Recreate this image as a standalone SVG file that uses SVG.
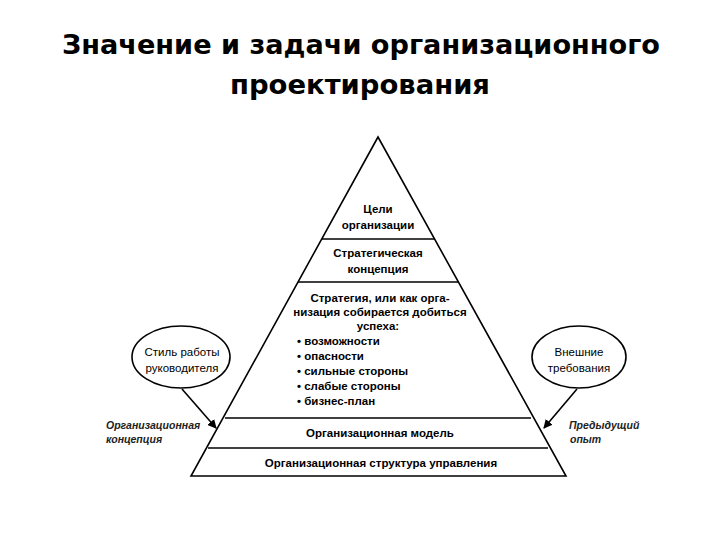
<svg xmlns="http://www.w3.org/2000/svg" width="720" height="540" viewBox="0 0 720 540">
<defs>
<style>
.t{font-family:"Liberation Sans",Arial,sans-serif;fill:#000}
.b{font-weight:bold;font-size:11.5px}
.n{font-size:11.5px}
.i{font-style:italic;font-weight:bold;font-size:10.5px;fill:#222}
.l{stroke:#000;stroke-width:1.6;fill:none}
.h{font-family:"DejaVu Sans","Liberation Sans",sans-serif;font-weight:bold;font-size:26px;fill:#000}
</style>
<marker id="a" markerWidth="9" markerHeight="9" refX="8" refY="4.5" orient="auto" markerUnits="userSpaceOnUse"><path d="M0,0 L9,4.5 L0,9 z" fill="#000"/></marker>
</defs>
<rect width="720" height="540" fill="#fff"/>
<text class="h" x="62" y="54" textLength="598" lengthAdjust="spacingAndGlyphs">Значение и задачи организационного</text>
<text class="h" x="230" y="94" textLength="260" lengthAdjust="spacingAndGlyphs">проектирования</text>
<g id="pyramid">
<path class="l" d="M378,137 L191,476 L566,476 Z"/>
<line class="l" x1="322" y1="239" x2="434" y2="239"/>
<line class="l" x1="298" y1="282" x2="458" y2="282"/>
<line class="l" x1="225" y1="418" x2="531" y2="418"/>
<line class="l" x1="208" y1="448" x2="548" y2="448"/>
</g>
<g id="goals"><text class="t b" text-anchor="middle" x="378" y="213">Цели</text><text class="t b" text-anchor="middle" x="378" y="229">организации</text></g>
<g id="concept"><text class="t b" text-anchor="middle" x="378" y="257">Стратегическая</text><text class="t b" text-anchor="middle" x="378" y="273">концепция</text></g>
<g id="strategy">
<text class="t b" text-anchor="middle" x="380" y="302">Стратегия, или как орга-</text>
<text class="t b" text-anchor="middle" x="380" y="316">низация собирается добиться</text>
<text class="t b" text-anchor="middle" x="378" y="330">успеха:</text>
<text class="t b" x="297" y="345">• возможности</text>
<text class="t b" x="297" y="360">• опасности</text>
<text class="t b" x="297" y="375">• сильные стороны</text>
<text class="t b" x="297" y="390">• слабые стороны</text>
<text class="t b" x="297" y="405">• бизнес-план</text>
</g>
<g id="model"><text class="t b" text-anchor="middle" x="380" y="437">Организационная модель</text></g>
<g id="structure"><text class="t b" text-anchor="middle" x="381" y="467">Организационная структура управления</text></g>
<g id="style"><ellipse class="l" cx="181" cy="357" rx="49" ry="31" stroke-width="1.3"/><text class="t n" text-anchor="middle" x="182" y="356">Стиль работы</text><text class="t n" text-anchor="middle" x="182" y="372">руководителя</text></g>
<g id="external"><ellipse class="l" cx="579" cy="357" rx="47" ry="31" stroke-width="1.3"/><text class="t n" text-anchor="middle" x="579" y="356">Внешние</text><text class="t n" text-anchor="middle" x="579" y="372">требования</text></g>
<g id="orgconcept"><text class="t i" x="106" y="429">Организационная</text><text class="t i" x="106" y="443">концепция</text></g>
<g id="experience"><text class="t i" x="569" y="429">Предыдущий</text><text class="t i" x="570" y="443">опыт</text></g>
<g id="connectors">
<line class="l" stroke-width="1.3" x1="182" y1="389" x2="216" y2="428" marker-end="url(#a)"/>
<line class="l" stroke-width="1.3" x1="577" y1="389" x2="544" y2="428" marker-end="url(#a)"/>
</g>
</svg>
